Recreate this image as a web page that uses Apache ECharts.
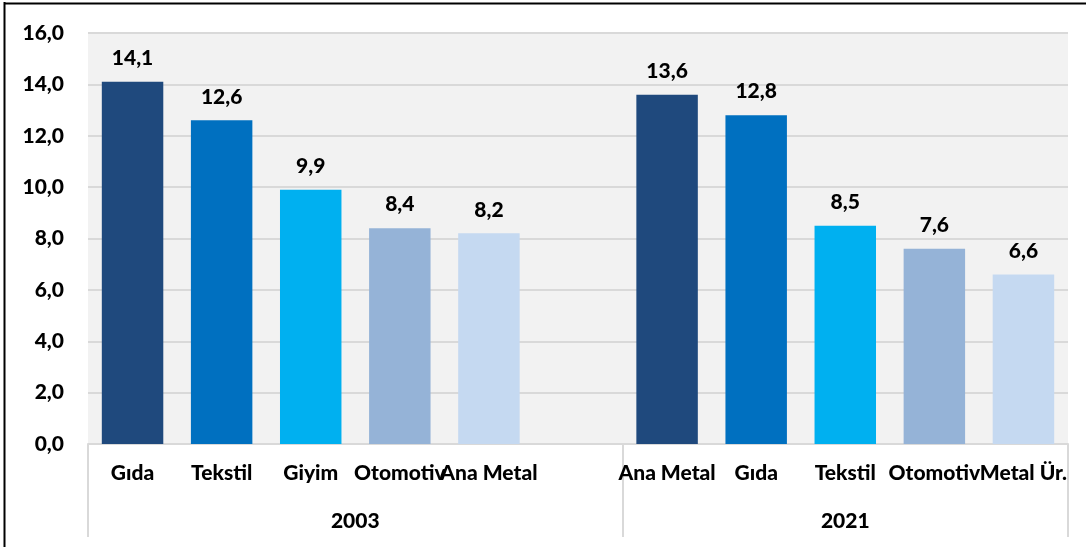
<!DOCTYPE html>
<html>
<head>
<meta charset="utf-8">
<script src="https://cdn.jsdelivr.net/npm/echarts@6/dist/echarts.min.js"></script>
<style>
html,body{margin:0;padding:0;background:#fff;}
#c{width:1086px;height:547px;}
</style>
</head>
<body>
<div id="c"></div>
<script>
var categories = ['Gıda','Tekstil','Giyim','Otomotiv','Ana Metal','','Ana Metal','Gıda','Tekstil','Otomotiv','Metal Ür.'];
var values = [14.1, 12.6, 9.9, 8.4, 8.2, null, 13.6, 12.8, 8.5, 7.6, 6.6];
var barColors = ['#1F497D','#0070C0','#00B0F0','#95B3D7','#C5D9F1'];
var groupNames = ['2003','2021'];
var groupBounds = [0, 6, 11];
var groupCenters = [3, 8.5];
var yTicks = {min:0, max:16, interval:2};

var fmt = function(v){ return Number(v).toFixed(1).replace('.', ','); };
var FONT = 'Lato';
var FW = 900;
var FS = 21;

var data = [];
var ci = 0;
for (var i = 0; i < values.length; i++) {
  if (values[i] === null) { data.push(null); ci = 0; continue; }
  data.push({value: values[i], itemStyle: {color: barColors[ci % barColors.length]}});
  ci++;
}

var chart = echarts.init(document.getElementById('c'), null, {renderer:'canvas'});
chart.setOption({
  animation: false,
  backgroundColor: '#ffffff',
  graphic: [
    {type:'line', shape:{x1:4.5,y1:2,x2:4.5,y2:547}, style:{stroke:'#000',lineWidth:2}},
    {type:'line', shape:{x1:4,y1:3.5,x2:1086,y2:3.5}, style:{stroke:'#000',lineWidth:2}}
  ],
  grid: {left:88, right:18, top:33, bottom:103, show:true, backgroundColor:'#F2F2F2', borderWidth:0},
  xAxis: [
    {
      type:'category', data: categories, position:'bottom',
      axisLine:{show:true, lineStyle:{color:'#D9D9D9', width:2}},
      axisTick:{show:false},
      axisLabel:{interval:0, margin:19, color:'#000', fontFamily:FONT, fontWeight:FW, fontSize:FS, hideOverlap:false},
      splitLine:{show:false}
    },
    {
      type:'value', min:0, max:11, position:'bottom', offset:0,
      axisLine:{show:false},
      axisTick:{show:true, customValues: groupBounds, length:93, lineStyle:{color:'#D9D9D9', width:2}},
      axisLabel:{show:true, customValues: groupCenters, margin:67, color:'#000', fontFamily:FONT, fontWeight:FW, fontSize:FS,
        formatter: function(v){ var k = groupCenters.indexOf(v); return k >= 0 ? groupNames[k] : ''; }},
      splitLine:{show:false}
    }
  ],
  yAxis: {
    type:'value', min:yTicks.min, max:yTicks.max, interval:yTicks.interval,
    axisLine:{show:false}, axisTick:{show:false},
    axisLabel:{margin:24, color:'#000', fontFamily:FONT, fontWeight:FW, fontSize:FS, formatter: fmt},
    splitLine:{show:true, lineStyle:{color:'#D9D9D9', width:2}}
  },
  series: [{
    type:'bar', xAxisIndex:0, data: data, barCategoryGap:'31%',
    label:{show:true, position:'top', distance:13, color:'#000', fontFamily:FONT, fontWeight:FW, fontSize:FS,
      formatter: function(p){ return fmt(p.value); }}
  }]
});
</script>
</body>
</html>
